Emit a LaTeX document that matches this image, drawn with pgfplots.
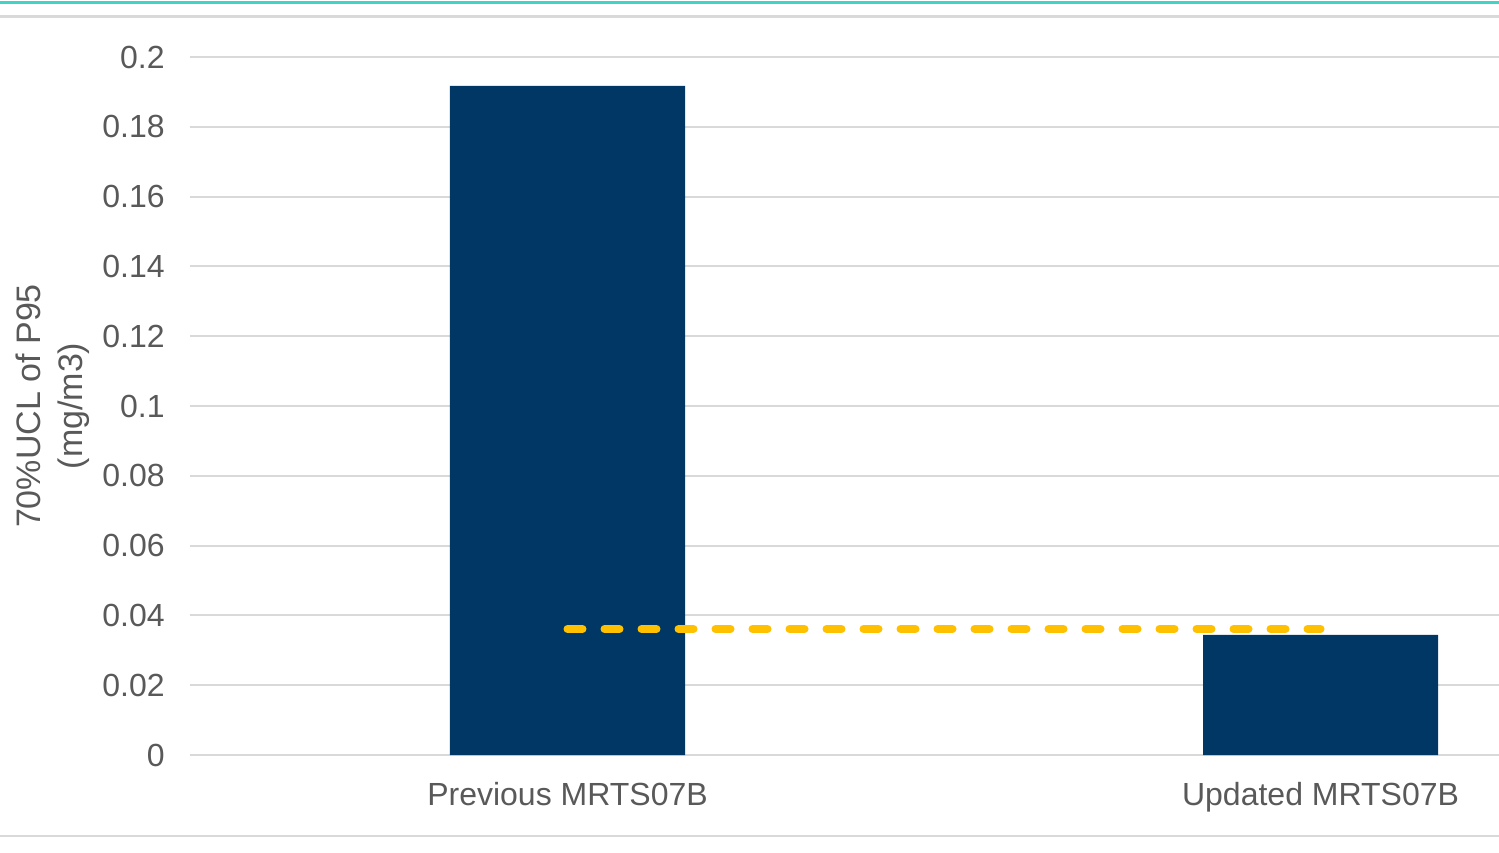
\documentclass[border=0pt]{standalone}
\usepackage{pgfplots}
\pgfplotsset{compat=1.18}
\usepackage{fontspec}
\setmainfont{Liberation Sans}
\definecolor{barblue}{HTML}{003764}
\definecolor{goldline}{HTML}{FFC000}
\definecolor{txtgray}{HTML}{595959}
\definecolor{gridgray}{HTML}{D9D9D9}
\definecolor{teal}{HTML}{40D4C8}
\begin{document}
\begin{tikzpicture}
\useasboundingbox (0,0) rectangle (749.5pt,426pt);
\draw[teal, line width=1.5pt] (0,424.5pt) -- (749.5pt,424.5pt);
\draw[gridgray, line width=1.5pt] (0,417.5pt) -- (749.5pt,417.5pt);
\draw[gridgray, line width=1.2pt] (0,8pt) -- (749.5pt,8pt);
\begin{axis}[
  at={(95pt,48.5pt)}, anchor=south west,
  scale only axis, width=654.5pt, height=349pt,
  xmin=-0.5013, xmax=1.237, ymin=0, ymax=0.2,
  axis line style={draw=none},
  tick style={draw=none},
  ytick={0,0.02,...,0.2},
  yticklabels={0,0.02,0.04,0.06,0.08,0.1,0.12,0.14,0.16,0.18,0.2},
  xtick={0,1}, xticklabels={Previous MRTS07B,Updated MRTS07B},
  major tick length=0pt,
  ymajorgrids, grid style={gridgray, line width=1pt},
  yticklabel style={anchor=east, inner sep=0pt, xshift=-12.5pt, font=\fontsize{16}{19}\selectfont, text=txtgray},
  xticklabel style={anchor=north, inner sep=0pt, yshift=-13.5pt, font=\fontsize{16}{19}\selectfont, text=txtgray},
  ylabel={70\%UCL of P95\\(mg/m3)},
  ylabel style={at={(axis description cs:-0.1045,0.5)}, anchor=center, rotate=0, align=center, font=\fontsize{17}{21}\selectfont, text=txtgray},
  clip=false,
]
\addplot[ybar, bar width=117.5pt, fill=barblue, draw=none] coordinates {(0,0.1917) (1,0.0344)};
\addplot[goldline, line width=4pt, line cap=round, dash pattern=on 7.5pt off 11pt] coordinates {(0,0.0361) (1,0.0361)};
\end{axis}
\end{tikzpicture}
\end{document}
